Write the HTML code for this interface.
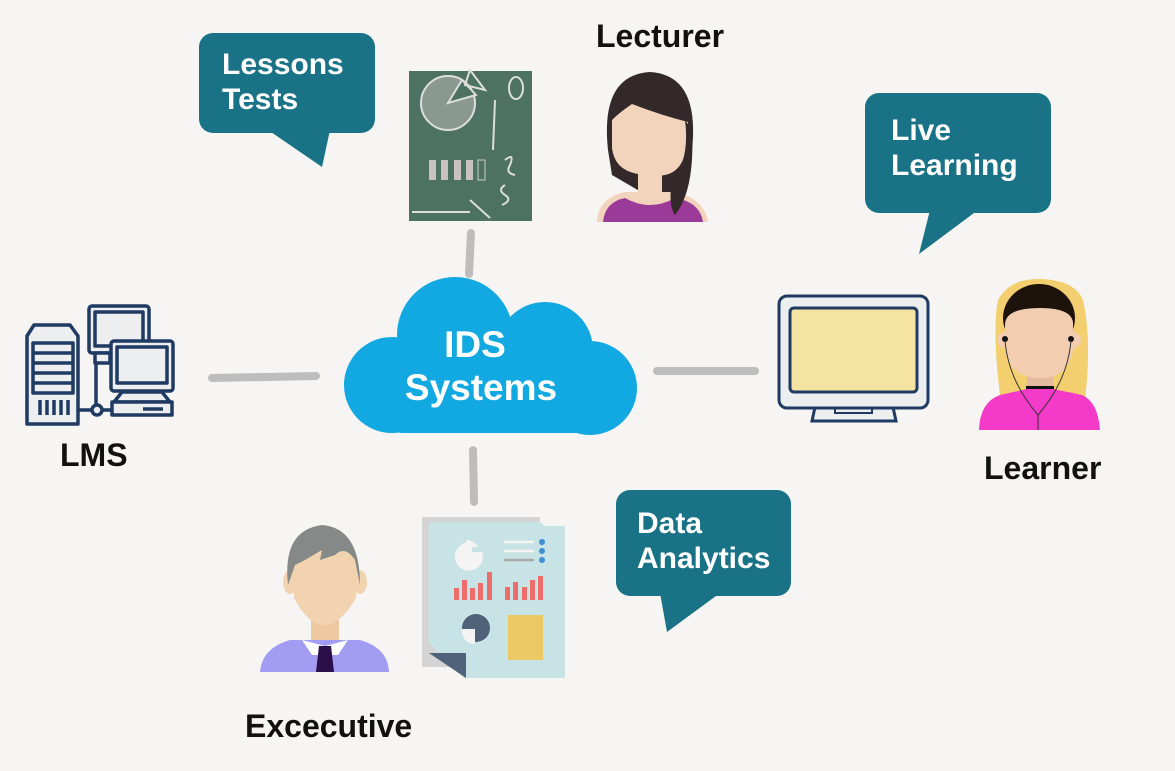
<!DOCTYPE html>
<html><head><meta charset="utf-8"><style>
html,body{margin:0;padding:0;background:#f6f5f3;}
svg{display:block;}
text{font-family:"Liberation Sans",Arial,sans-serif;font-weight:bold;}
</style></head><body>
<svg width="1175" height="771" viewBox="0 0 1175 771" xmlns="http://www.w3.org/2000/svg">
<rect width="1175" height="771" fill="#f6f5f3"/>
<!-- connectors -->
<g stroke="#bdbdbd" stroke-width="8" stroke-linecap="round">
<line x1="212" y1="378" x2="316" y2="376"/>
<line x1="657" y1="371" x2="755" y2="371"/>
<line x1="471" y1="233" x2="469" y2="274"/>
<line x1="473" y1="450" x2="474" y2="502"/>
</g>
<!-- bubbles -->
<g fill="#1a7287">
<rect x="199" y="33" width="176" height="100" rx="14"/>
<polygon points="268,130 322,167 330,130"/>
<rect x="865" y="93" width="186" height="120" rx="14"/>
<polygon points="930,210 919,254 978,210"/>
<rect x="616" y="490" width="175" height="106" rx="14"/>
<polygon points="660,593 667,632 720,593"/>
</g>
<g fill="#fff" font-size="30">
<text x="222" y="74">Lessons</text>
<text x="222" y="109">Tests</text>
<text x="891" y="140">Live</text>
<text x="891" y="175">Learning</text>
<text x="637" y="533">Data</text>
<text x="637" y="568">Analytics</text>
</g>
<!-- cloud -->
<g fill="#12a8e2">
<circle cx="455" cy="335" r="58"/>
<circle cx="545" cy="350" r="48"/>
<circle cx="590" cy="388" r="47"/>
<circle cx="392" cy="385" r="48"/>
<rect x="392" y="360" width="198" height="73" rx="10"/>
</g>
<text x="475" y="357" fill="#fff" font-size="37" text-anchor="middle">IDS</text>
<text x="481" y="400" fill="#fff" font-size="37" text-anchor="middle">Systems</text>
<!-- labels -->
<g fill="#111" font-size="32">
<text x="596" y="47">Lecturer</text>
<text x="60" y="466">LMS</text>
<text x="984" y="479">Learner</text>
<text x="245" y="737">Excecutive</text>
</g>
<!-- chalkboard -->
<rect x="409" y="71" width="123" height="150" fill="#4d7263"/>
<g fill="none" stroke="#ddd" stroke-width="2">
<circle cx="448" cy="103" r="27" fill="#8a9990"/>
<path d="M448 103 L462 80 L476 95 Z" fill="#4d7263"/>
<path d="M465 85 L470 70 L485 90 Z"/>
<ellipse cx="516" cy="88" rx="7" ry="11"/>
<path d="M505 160 q10-8 5 5 q-5 8 5 10"/>
<path d="M505 185 q-8 5 0 10 q8 5 -3 10"/>
<line x1="495" y1="100" x2="493" y2="150"/>
<line x1="412" y1="212" x2="470" y2="212"/>
<line x1="470" y1="200" x2="490" y2="218"/>
</g>
<g fill="#c9c2c4"><rect x="429" y="160" width="7" height="20"/><rect x="441" y="160" width="7" height="20"/><rect x="454" y="160" width="7" height="20"/><rect x="466" y="160" width="7" height="20"/><rect x="478" y="160" width="7" height="20" fill="none" stroke="#ccc"/></g>
<!-- lecturer -->
<path d="M608 150 Q600 75 650 72 Q700 75 692 150 Q688 185 680 200 L665 220 L655 200 L612 175 Z" fill="#33292a"/>
<path d="M597 222 Q598 198 625 192 L675 192 Q704 198 708 222 Z" fill="#f2d3bc"/>
<path d="M603 222 Q605 202 625 198 Q650 212 675 198 Q700 202 703 222 Z" fill="#9b3a98"/>
<rect x="638" y="160" width="24" height="38" fill="#f2d3bc"/>
<path d="M612 120 Q620 112 632 104 Q660 115 688 122 L686 150 Q680 180 650 175 Q615 175 612 148 Z" fill="#f2d3bc"/>
<path d="M672 180 Q690 160 685 120 L692 130 Q695 190 675 215 Q668 205 672 180 Z" fill="#33292a"/>
<!-- LMS icon -->
<g stroke="#1f3a63" stroke-width="3.5" fill="#eceef0" stroke-linejoin="round">
<path d="M27 336 L34 325 L70 325 L78 336 L78 424 L27 424 Z"/>
<rect x="33" y="343" width="40" height="50" fill="#eceef0"/>
<line x1="33" y1="353" x2="73" y2="353"/><line x1="33" y1="363" x2="73" y2="363"/><line x1="33" y1="373" x2="73" y2="373"/><line x1="33" y1="383" x2="73" y2="383"/>
<line x1="40" y1="400" x2="40" y2="415"/><line x1="47" y1="400" x2="47" y2="415"/><line x1="54" y1="400" x2="54" y2="415"/><line x1="61" y1="400" x2="61" y2="415"/><line x1="68" y1="400" x2="68" y2="415"/>
<rect x="89" y="306" width="60" height="47" rx="3"/>
<rect x="95" y="312" width="48" height="34"/>
<path d="M95 353 L110 353 L110 363 L95 363 Z"/>
<line x1="96" y1="364" x2="96" y2="408"/>
<line x1="78" y1="410" x2="112" y2="410"/>
<circle cx="97" cy="410" r="5"/>
<rect x="111" y="341" width="62" height="50" rx="3"/>
<rect x="117" y="347" width="50" height="36"/>
<path d="M122 392 L162 392 L170 402 L114 402 Z"/>
<rect x="112" y="402" width="60" height="13"/>
<line x1="143" y1="409" x2="163" y2="409"/>
</g>
<!-- monitor -->
<path d="M815 407 L893 407 L896 421 L812 421 Z" fill="#eceef0" stroke="#1f3a63" stroke-width="3"/>
<rect x="835" y="407" width="37" height="6" fill="#eceef0" stroke="#1f3a63" stroke-width="2"/>
<rect x="779" y="296" width="149" height="112" rx="8" fill="#eceef0" stroke="#1f3a63" stroke-width="3"/>
<rect x="790" y="308" width="127" height="84" rx="4" fill="#f5e3a3" stroke="#1f3a63" stroke-width="3"/>
<!-- learner -->
<path d="M1000 395 Q992 330 998 300 Q1010 278 1040 279 Q1075 280 1083 300 Q1092 340 1085 400 Z" fill="#f3cf6f"/>
<ellipse cx="1039" cy="318" rx="36" ry="34" fill="#1e120c"/>
<rect x="1027" y="370" width="26" height="20" fill="#e5b9a0"/>
<circle cx="1005" cy="340" r="8" fill="#f2cdb0"/><circle cx="1073" cy="340" r="8" fill="#f2cdb0"/>
<path d="M1005 325 Q1005 308 1040 308 Q1074 308 1073 325 L1073 350 Q1068 378 1040 378 Q1010 378 1005 350 Z" fill="#f2cdb0"/>
<circle cx="1005" cy="339" r="3" fill="#111"/><circle cx="1071" cy="339" r="3" fill="#111"/>
<rect x="1026" y="386" width="28" height="4" fill="#111"/>
<path d="M979 430 Q980 402 1000 395 L1027 389 L1053 389 L1082 395 Q1098 402 1100 430 Z" fill="#f43ac8"/>
<path d="M1005 340 Q1008 380 1038 415 M1071 340 Q1068 380 1038 415 L1038 430" stroke="#333" stroke-width="1" fill="none"/>
<!-- executive -->
<path d="M260 672 Q262 648 290 640 L360 640 Q388 648 389 672 Z" fill="#a29cf2"/>
<path d="M302 640 L325 646 L348 640 L338 655 L312 655 Z" fill="#fff"/>
<path d="M319 646 L331 646 L334 672 L316 672 Z" fill="#2a0f4a"/>
<rect x="311" y="605" width="28" height="35" fill="#eec9a0"/>
<ellipse cx="290" cy="582" rx="7" ry="12" fill="#f2d3b0"/><ellipse cx="360" cy="582" rx="7" ry="12" fill="#f2d3b0"/>
<path d="M292 565 Q292 540 325 540 Q358 540 358 565 L356 598 Q340 625 325 625 Q308 625 294 598 Z" fill="#f2d3b0"/>
<path d="M288 585 Q282 530 322 525 Q360 528 360 585 L355 560 Q345 545 335 555 L320 560 L322 550 L305 560 L295 565 Z" fill="#858a88"/>
<!-- report -->
<rect x="422" y="517" width="118" height="150" fill="#d4d4d4"/>
<path d="M429 522 L540 522 L545 526 L565 526 L565 678 L464 678 L429 643 Z" fill="#c8e3e5"/>
<path d="M429 653 L466 653 L466 678 Z" fill="#4f627a"/>
<path d="M472 543 A14 14 0 1 0 482 552 L472 552 Z" fill="#f4f4f4"/>
<path d="M466 547 L466 540 A14 14 0 0 1 478 547 Z" fill="#f4f4f4"/>
<g stroke="#f4f4f4" stroke-width="2.5"><line x1="504" y1="542" x2="534" y2="542"/><line x1="504" y1="551" x2="534" y2="551"/></g>
<line x1="504" y1="560" x2="534" y2="560" stroke="#aaa" stroke-width="2.5"/>
<g fill="#3f8ed6"><circle cx="542" cy="542" r="3"/><circle cx="542" cy="551" r="3"/><circle cx="542" cy="560" r="3"/></g>
<g fill="#ee6d6a">
<rect x="454" y="588" width="5" height="12"/><rect x="462" y="580" width="5" height="20"/><rect x="470" y="588" width="5" height="12"/><rect x="478" y="583" width="5" height="17"/><rect x="487" y="572" width="5" height="28"/>
<rect x="505" y="587" width="5" height="13"/><rect x="513" y="582" width="5" height="18"/><rect x="522" y="587" width="5" height="13"/><rect x="530" y="580" width="5" height="20"/><rect x="538" y="576" width="5" height="24"/>
</g>
<circle cx="476" cy="628" r="14" fill="#4f627a"/>
<path d="M475 629 L462 629 A13 13 0 0 0 475 644 Z" fill="#f4f4f4"/>
<rect x="508" y="615" width="35" height="45" fill="#edc966"/>
</svg>
</body></html>
